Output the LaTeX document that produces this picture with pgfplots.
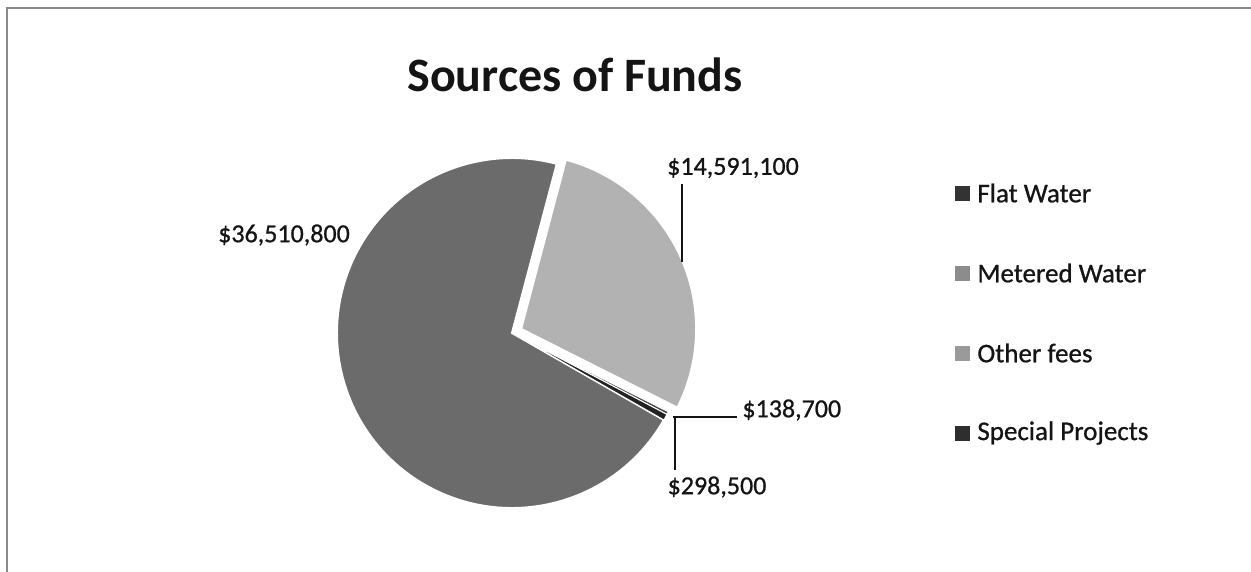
\documentclass[border=0pt]{standalone}
\usepackage{pgfplots}
\usepackage{pgfplotstable}
\pgfplotsset{compat=1.18}
\usepackage{fontspec}
\setmainfont{Carlito}
% the scanned labels look heavier than plain Carlito
\newfontfamily\heavy{Carlito}[FakeBold=0.8]

\definecolor{txt}{HTML}{141414}
\definecolor{frame}{HTML}{8A8A8A}
\definecolor{flatc}{HTML}{6B6B6B}
\definecolor{meterc}{HTML}{B2B2B2}
\definecolor{otherc}{HTML}{444444}
\definecolor{specc}{HTML}{222222}
% legend swatches as they look in the scan
\definecolor{flatl}{HTML}{333333}
\definecolor{meterl}{HTML}{8C8C8C}
\definecolor{otherl}{HTML}{9A9A9A}
\definecolor{specl}{HTML}{2E2E2E}

\pgfplotstableread[col sep=comma]{
name,value
Flat Water,36510800
Metered Water,14591100
Other fees,138700
Special Projects,298500
}\funds

\pgfplotstablegetelem{0}{value}\of\funds \edef\vA{\pgfplotsretval}
\pgfplotstablegetelem{1}{value}\of\funds \edef\vB{\pgfplotsretval}
\pgfplotstablegetelem{2}{value}\of\funds \edef\vC{\pgfplotsretval}
\pgfplotstablegetelem{3}{value}\of\funds \edef\vD{\pgfplotsretval}
\pgfplotstablegetelem{0}{name}\of\funds \edef\nA{\pgfplotsretval}
\pgfplotstablegetelem{1}{name}\of\funds \edef\nB{\pgfplotsretval}
\pgfplotstablegetelem{2}{name}\of\funds \edef\nC{\pgfplotsretval}
\pgfplotstablegetelem{3}{name}\of\funds \edef\nD{\pgfplotsretval}

% slice angles, clockwise like Excel
\edef\total{\fpeval{\vA+\vB+\vC+\vD}}
\def\aA{-29.8}
\edef\aB{\fpeval{\aA-360*\vA/\total}}
\edef\aC{\fpeval{\aB-360*\vB/\total}}
\edef\aD{\fpeval{\aC-360*\vC/\total}}
\edef\aE{\fpeval{\aD-360*\vD/\total}}
\edef\mB{\fpeval{(\aB+\aC)/2}}
\def\R{87.5pt}

\newcommand{\money}[1]{\$\pgfmathprintnumber[fixed,precision=0,1000 sep={,}]{#1}}

\begin{document}
\begin{tikzpicture}
\begin{axis}[
  scale only axis, width=625.5pt, height=286pt,
  xmin=0, xmax=1251, ymin=0, ymax=572, y dir=reverse,
  hide axis, clip=false,
  /pgf/number format/assume math mode=true,
]
% frame of the chart area
\draw[line width=1pt, frame] (axis cs:7,572) -- (axis cs:7,8) -- (axis cs:1251,8);

\node[font=\bfseries\fontsize{24}{28}\selectfont, text=txt] at (axis cs:575,75) {Sources of Funds};

% pie
\filldraw[fill=flatc, draw=white, line width=1pt]
  (axis cs:512,333) -- ++(\aA:\R) arc[start angle=\aA, end angle=\aB, radius=\R] -- cycle;
\filldraw[fill=meterc, draw=white, line width=1pt, shift={(\mB:5pt)}]
  (axis cs:512,333) -- ++(\aB:\R) arc[start angle=\aB, end angle=\aC, radius=\R] -- cycle;
\filldraw[fill=otherc, draw=white, line width=0.5pt]
  (axis cs:512,333) -- ++(\aC:\R) arc[start angle=\aC, end angle=\aD, radius=\R] -- cycle;
\filldraw[fill=specc, draw=white, line width=0.5pt]
  (axis cs:512,333) -- ++(\aD:\R) arc[start angle=\aD, end angle=\aE, radius=\R] -- cycle;

% data labels and leader lines
\begin{scope}[font=\heavy\fontsize{13}{15}\selectfont, text=txt]
\node at (axis cs:284,235) {\money{\vA}};
\node at (axis cs:733,168) {\money{\vB}};
\node[anchor=west, inner sep=0pt] at (axis cs:742,410) {\money{\vC}};
\node at (axis cs:717,487) {\money{\vD}};
\end{scope}
\draw[line width=0.9pt, txt] (axis cs:682,184) -- (axis cs:682,262);
\draw[line width=0.9pt, txt] (axis cs:673,417) -- (axis cs:737,417);
\draw[line width=0.9pt, txt] (axis cs:675,417) -- (axis cs:675,470);

% legend
\begin{scope}[font=\heavy\fontsize{13.5}{15}\selectfont, text=txt]
\fill[flatl]  (axis cs:955,186) rectangle (axis cs:970,201);
\fill[meterl] (axis cs:955,266) rectangle (axis cs:970,281);
\fill[otherl] (axis cs:955,346) rectangle (axis cs:970,361);
\fill[specl]  (axis cs:955,426) rectangle (axis cs:970,441);
\node[anchor=west, inner sep=0pt] at (axis cs:977,193) {\nA};
\node[anchor=west, inner sep=0pt] at (axis cs:977,273) {\nB};
\node[anchor=west, inner sep=0pt] at (axis cs:977,353) {\nC};
\node[anchor=west, inner sep=0pt] at (axis cs:977,433) {\nD};
\end{scope}
\end{axis}
\pgfresetboundingbox
\path[use as bounding box] (current axis.south west) rectangle (current axis.north east);
\end{tikzpicture}
\end{document}
